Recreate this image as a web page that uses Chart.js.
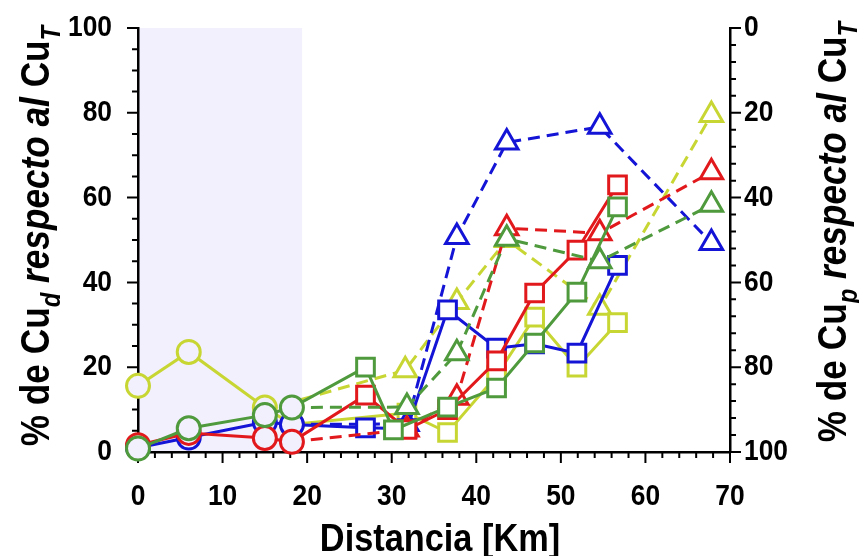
<!DOCTYPE html>
<html>
<head>
<meta charset="utf-8">
<script src="https://cdn.jsdelivr.net/npm/chart.js@4"></script>
<style>
  html, body { margin: 0; padding: 0; background: #fff; }
  #wrap { width: 859px; height: 556px; }
</style>
</head>
<body>
<div id="wrap"><canvas id="chart"></canvas></div>
<script>
// distances (km) of the sampling points
const kmSolid = [0, 6, 15, 18.2, 26.9, 31.8, 36.6, 42.4, 46.9, 51.9, 56.7];
const kmSolidGreen = [0, 6, 15, 18.2, 26.9, 30.2, 36.6, 42.4, 46.9, 51.9, 56.7];
const kmDashed = [18.2, 31.8, 37.7, 43.6, 54.6, 67.8];
const kmDashedYellow = [15, 31.6, 37.7, 43.6, 54.6, 67.8];

// % Cu_d (left axis), solid lines
const cudBlue = [1, 3.4, 7, 6.5, 5.7, 5.5, 33.5, 24.5, 25.5, 23.3, 44];
const cudRed = [1.6, 4.5, 3.3, 2.4, 13.4, 5.3, 10, 21.5, 37.5, 47.6, 63];
const cudGreen = [0.8, 5.6, 8.7, 10.5, 20, 5.2, 10.6, 15.1, 25.7, 37.7, 57.8];
const cudYellow = [15.6, 23.6, 10.5, 6.5, null, 9.2, 4.6, 18, 31.8, 20, 30.5];

// % Cu_p (right axis, reversed), dashed lines
const cupBlue = [93.5, 93.4, 49.3, 27, 23.3, 50.7];
const cupRed = [97.6, 94.7, 87.2, 47.2, 48.4, 34];
const cupGreen = [89.5, 89.4, 76.7, 49.7, 55, 41.7];
const cupYellow = [90, 80.7, 64.6, 50, 66, 20.5];

const shadeKm = 19.4;

const FONT = "'Liberation Sans', Arial, sans-serif";
const SQUEEZE = 0.88; // the original lettering is a narrow face
const BG = '#f2f0fc';
const colors = { blue: '#1414d6', red: '#e2191c', green: '#4f9a3c', yellow: '#c8d634' };

function pairs(xs, ys) {
  return xs.map((x, i) => ({ x: x, y: ys[i] }));
}

function solid(color, xs, ys) {
  return {
    data: pairs(xs, ys),
    yAxisID: 'y',
    borderColor: color,
    borderWidth: 3,
    pointBorderColor: color,
    pointBorderWidth: 3,
    pointStyle: xs.map(x => x < 20 ? 'circle' : 'rect'),
    pointRadius: xs.map(x => x < 20 ? 11.5 : 12.5),
    pointBackgroundColor: xs.map(x => x < shadeKm ? BG : '#fff'),
    spanGaps: true,
    clip: false
  };
}

function dashed(color, xs, ys) {
  return {
    data: pairs(xs, ys),
    yAxisID: 'y2',
    borderColor: color,
    borderWidth: 3,
    borderDash: [12, 7],
    pointBorderColor: color,
    pointBorderWidth: 3,
    pointStyle: 'triangle',
    pointRadius: xs.map((x, i) => i === 0 ? 0 : 13),
    pointBackgroundColor: '#fff',
    clip: false
  };
}

// light box over the first 20 km
const shade = {
  id: 'shade',
  beforeDraw(chart) {
    const { ctx, chartArea: a, scales } = chart;
    ctx.save();
    ctx.fillStyle = BG;
    ctx.fillRect(a.left, a.top, scales.x.getPixelForValue(shadeKm) - a.left, a.bottom - a.top);
    ctx.restore();
  }
};

function squeezedText(ctx, text, x, y, font, align, baseline) {
  ctx.save();
  ctx.translate(x, y);
  ctx.scale(SQUEEZE, 1);
  ctx.fillStyle = '#000';
  ctx.font = font;
  ctx.textAlign = align;
  ctx.textBaseline = baseline;
  ctx.fillText(text, 0, 0);
  ctx.restore();
}

// major + minor tick marks (under the markers) and tick labels
const axisDecor = {
  id: 'axisDecor',
  beforeDatasetsDraw(chart) {
    const { ctx, chartArea: a, scales } = chart;
    ctx.save();
    ctx.strokeStyle = '#000';
    ctx.lineWidth = 2;
    const run = (scale, minor, major, draw) => {
      for (let v = scale.min; v <= scale.max + 1e-6; v += minor) {
        const len = Math.abs(v / major - Math.round(v / major)) < 1e-6 ? 11 : 6;
        draw(scale.getPixelForValue(v), len);
      }
    };
    ctx.beginPath();
    run(scales.x, 2, 10, (p, l) => { ctx.moveTo(p, a.bottom); ctx.lineTo(p, a.bottom + l); });
    run(scales.y, 5, 20, (p, l) => { ctx.moveTo(a.left, p); ctx.lineTo(a.left - l, p); });
    run(scales.y2, 4, 20, (p, l) => { ctx.moveTo(a.right, p); ctx.lineTo(a.right + l, p); });
    ctx.stroke();
    ctx.restore();
  },
  afterDraw(chart) {
    const { ctx, scales } = chart;
    const f = 'bold 30px ' + FONT;
    scales.x.ticks.forEach(t => squeezedText(ctx, String(t.value), scales.x.getPixelForValue(t.value), 497, f, 'center', 'middle'));
    scales.y.ticks.forEach(t => squeezedText(ctx, String(t.value), 112, scales.y.getPixelForValue(t.value), f, 'right', 'middle'));
    scales.y2.ticks.forEach(t => squeezedText(ctx, String(t.value), 744, scales.y2.getPixelForValue(t.value), f, 'left', 'middle'));
  }
};

// axis titles with subscripts and italics
function drawRuns(ctx, runs, size) {
  const parts = runs.map(r => {
    const s = r.sub ? size * 0.68 : size;
    const f = (r.italic ? 'italic ' : '') + 'bold ' + s + 'px ' + FONT;
    ctx.font = f;
    return { t: r.t, f: f, w: ctx.measureText(r.t).width, dy: r.sub ? size * 0.28 : 0 };
  });
  const total = parts.reduce((s, p) => s + p.w, 0);
  let x = -total / 2;
  parts.forEach(p => {
    ctx.font = p.f;
    ctx.fillText(p.t, x, p.dy);
    x += p.w;
  });
}

const titles = {
  id: 'titles',
  afterDraw(chart) {
    const { ctx } = chart;
    const left = [
      { t: '% de Cu' }, { t: 'd', sub: true, italic: true },
      { t: ' respecto al ', italic: true }, { t: 'Cu' }, { t: 'T', sub: true, italic: true }
    ];
    const right = [
      { t: '% de Cu' }, { t: 'p', sub: true, italic: true },
      { t: ' respecto al ', italic: true }, { t: 'Cu' }, { t: 'T', sub: true, italic: true }
    ];
    [[left, 49, 236], [right, 846, 232]].forEach(([runs, x, y]) => {
      ctx.save();
      ctx.fillStyle = '#000';
      ctx.textBaseline = 'alphabetic';
      ctx.textAlign = 'left';
      ctx.translate(x, y);
      ctx.rotate(-Math.PI / 2);
      ctx.scale(SQUEEZE, 1);
      drawRuns(ctx, runs, 40);
      ctx.restore();
    });
    squeezedText(ctx, 'Distancia [Km]', 440, 551, 'bold 39px ' + FONT, 'center', 'alphabetic');
  }
};

const axisBorder = { display: true, color: '#000', width: 2.5 };
const noPad = s => { s.paddingTop = 0; s.paddingBottom = 0; s.paddingLeft = 0; s.paddingRight = 0; };

new Chart(document.getElementById('chart'), {
  type: 'line',
  data: {
    datasets: [
      solid(colors.green, kmSolidGreen, cudGreen),
      dashed(colors.green, kmDashed, cupGreen),
      solid(colors.red, kmSolid, cudRed),
      dashed(colors.red, kmDashed, cupRed),
      solid(colors.blue, kmSolid, cudBlue),
      dashed(colors.blue, kmDashed, cupBlue),
      solid(colors.yellow, kmSolid, cudYellow),
      dashed(colors.yellow, kmDashedYellow, cupYellow)
    ]
  },
  options: {
    responsive: true,
    maintainAspectRatio: false,
    animation: false,
    layout: { padding: { top: 28, left: 0, right: 0, bottom: 0 } },
    plugins: { legend: { display: false }, tooltip: { enabled: false } },
    scales: {
      x: {
        type: 'linear', min: 0, max: 70,
        ticks: { stepSize: 10, display: false },
        grid: { display: false },
        border: axisBorder,
        afterFit: s => { noPad(s); s.height = 104; }
      },
      y: {
        position: 'left', min: 0, max: 100,
        ticks: { stepSize: 20, display: false },
        grid: { display: false },
        border: axisBorder,
        afterFit: s => { noPad(s); s.width = 138; }
      },
      y2: {
        position: 'right', min: 0, max: 100, reverse: true,
        ticks: { stepSize: 20, display: false },
        grid: { display: false },
        border: axisBorder,
        afterFit: s => { noPad(s); s.width = 129; }
      }
    }
  },
  plugins: [shade, axisDecor, titles]
});
</script>
</body>
</html>
